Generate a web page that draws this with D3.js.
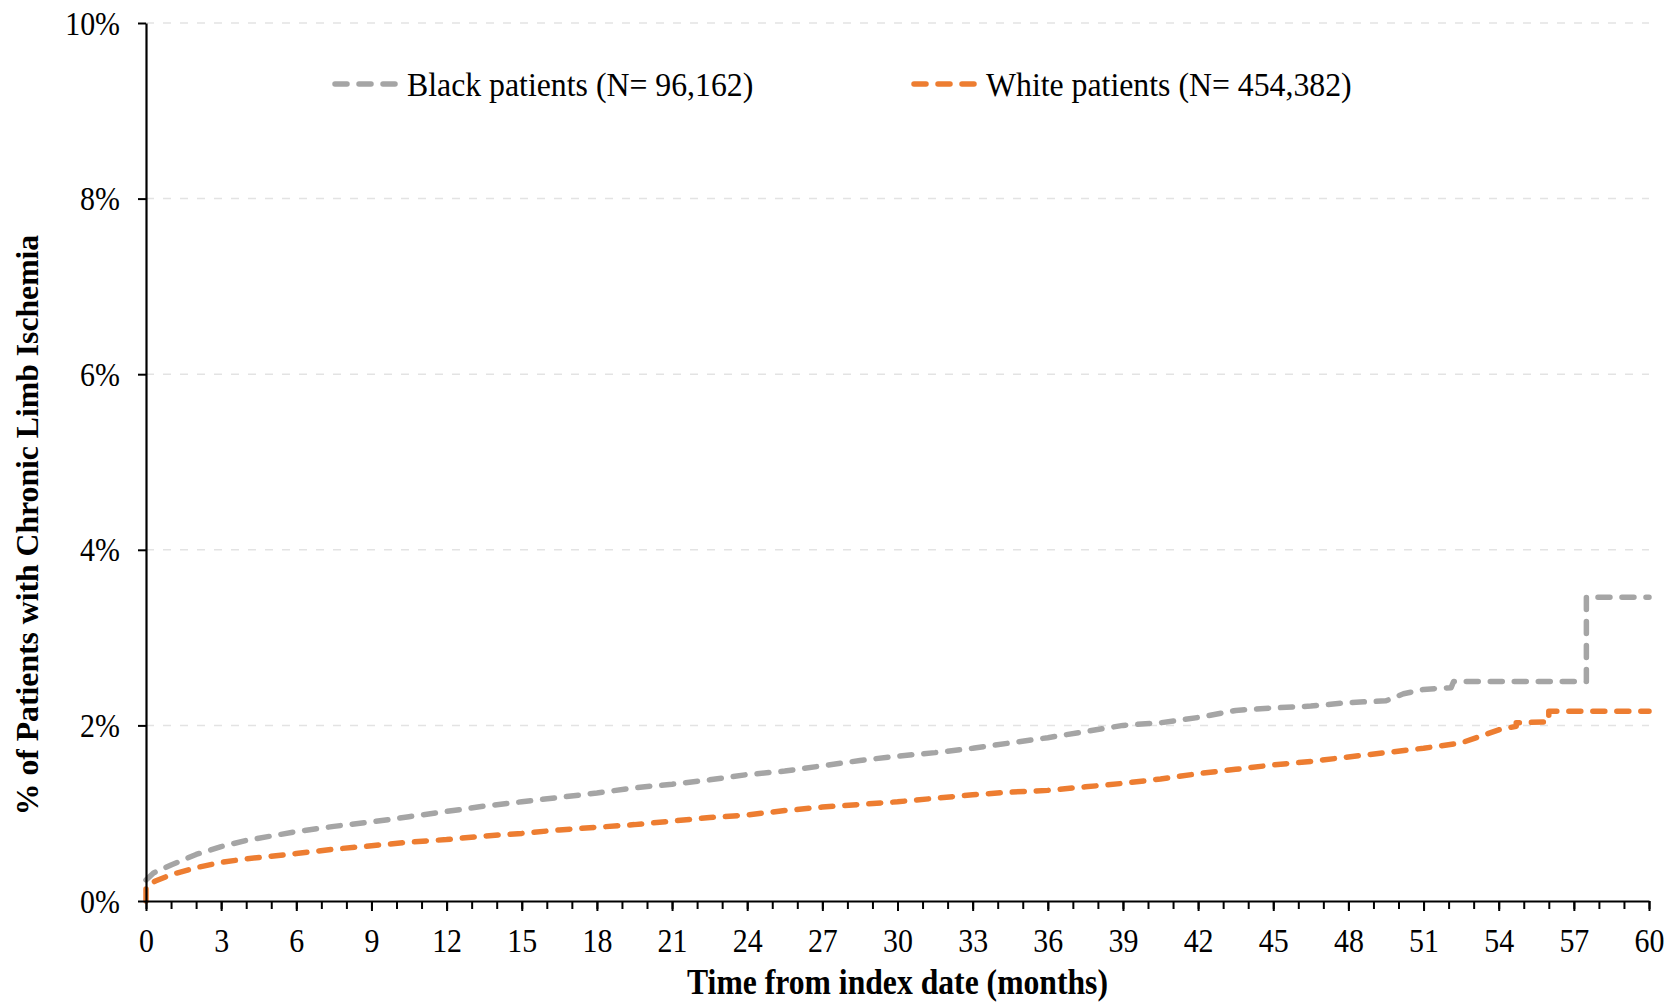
<!DOCTYPE html>
<html><head><meta charset="utf-8">
<script src="https://cdn.jsdelivr.net/npm/d3@7"></script>
<style>body{margin:0;background:#fff;overflow:hidden}</style>
</head><body><svg id="c" width="1680" height="1002"></svg>
<script>
// ---- data ----
const seriesNames = ["Black patients (N= 96,162)", "White patients (N= 454,382)"];
const blackMonths = [0,0.3,1,2,3,4,5,6,7.5,9,10.5,12,13.5,15,16.5,18,19.5,21,22.5,24,25.5,27,28.5,30,31.5,33,34.5,36,37.5,39,40.5,42,43.5,45,46.5,48,49.5,50.2,51,52.1,52.2,57.5,57.5,60];
const blackPct    = [0.24,0.32,0.41,0.53,0.62,0.69,0.74,0.79,0.85,0.9,0.96,1.02,1.08,1.13,1.18,1.23,1.29,1.33,1.38,1.44,1.48,1.54,1.6,1.65,1.69,1.74,1.8,1.86,1.93,2.0,2.03,2.09,2.17,2.2,2.22,2.26,2.28,2.36,2.41,2.43,2.5,2.5,3.46,3.46];
const whiteMonths = [0,0,0.1,0.4,1,2,3,4,5,6,7.5,9,10.5,12,13.5,15,16.5,18,19.5,21,22.5,24,25.5,27,28.5,30,31.5,33,34.5,36,37.5,39,40.5,42,43.5,45,46.5,48,49.5,51,52.5,53.2,54,54.7,54.7,56,56,60];
const whitePct    = [0,0.15,0.19,0.23,0.3,0.38,0.44,0.48,0.51,0.54,0.59,0.63,0.67,0.7,0.74,0.77,0.81,0.84,0.87,0.91,0.95,0.98,1.03,1.07,1.1,1.13,1.17,1.21,1.24,1.26,1.3,1.34,1.39,1.45,1.5,1.55,1.59,1.64,1.69,1.74,1.8,1.87,1.95,1.99,2.03,2.04,2.16,2.16];
const xMajorTicks = d3.range(0, 61, 3);
const xMinorTicks = d3.range(0, 61, 1);
const yTicks = [0,2,4,6,8,10];
const colors = ["#a5a5a5", "#ed7d31"];

// ---- layout ----
const svg = d3.select("#c");
const mLeft = 146, mRight = 1649, mTop = 23, mBottom = 901;
const sx = 0.88; // horizontal compression of serif glyphs
const x = d3.scaleLinear().domain([0,60]).range([mLeft,mRight]);
const y = d3.scaleLinear().domain([0,10]).range([mBottom,mTop]);
const font = "'Liberation Serif','Times New Roman',serif";

// gridlines
svg.append("g").selectAll("line").data(yTicks.filter(d=>d>0)).join("line")
  .attr("x1", mLeft).attr("x2", mRight)
  .attr("y1", d=>y(d)).attr("y2", d=>y(d))
  .attr("stroke", "#e3e3e3").attr("stroke-width", 1.5).attr("stroke-dasharray", "8,9");

// lines
const line = d3.line().x(d=>x(d[0])).y(d=>y(d[1]));
const series = [
  d3.zip(blackMonths, blackPct),
  d3.zip(whiteMonths, whitePct)
];
series.forEach((s,i)=>{
  svg.append("path").datum(s).attr("d", line)
    .attr("fill","none").attr("stroke", colors[i]).attr("stroke-width", 5.5)
    .attr("stroke-linecap","round").attr("stroke-linejoin","round")
    .attr("stroke-dasharray","12,12");
});

// x axis minor ticks
svg.append("g").attr("transform", `translate(0,${mBottom})`)
  .call(d3.axisBottom(x).tickValues(xMinorTicks).tickSize(8).tickFormat(""))
  .call(g=>{g.select(".domain").remove(); g.selectAll("line").attr("stroke","#000").attr("stroke-width",2);});
// x axis major
const xa = svg.append("g").attr("transform", `translate(0,${mBottom})`)
  .call(d3.axisBottom(x).tickValues(xMajorTicks).tickSize(10).tickSizeOuter(0).tickPadding(8).tickFormat(d3.format("d")));
xa.select(".domain").attr("stroke","#000").attr("stroke-width",2.2);
xa.selectAll("line").attr("stroke","#000").attr("stroke-width",2);
xa.selectAll("text").attr("font-family", font).attr("font-size", 34).attr("fill","#000")
  .attr("dy", null).attr("y", 51).attr("transform", `scale(${sx},1)`);

// y axis
const ya = svg.append("g").attr("transform", `translate(${mLeft},0)`)
  .call(d3.axisLeft(y).tickValues(yTicks).tickSize(8).tickSizeOuter(0).tickFormat(d=>d+"%"));
ya.select(".domain").attr("stroke","#000").attr("stroke-width",2.2);
ya.selectAll("line").attr("stroke","#000").attr("stroke-width",2);
ya.selectAll("text").attr("font-family", font).attr("font-size", 34).attr("fill","#000")
  .attr("dy", null).attr("y", 11).attr("x", -26/sx).attr("transform", `scale(${sx},1)`);

// axis titles
svg.append("g").attr("transform", `translate(${(mLeft+mRight)/2},994) scale(0.905,1)`)
  .append("text").attr("text-anchor","middle").attr("font-family",font).attr("font-weight","bold")
  .attr("font-size",35).text("Time from index date (months)");
svg.append("text").attr("transform", `translate(38,525) rotate(-90)`)
  .attr("text-anchor","middle").attr("font-family",font).attr("font-weight","bold")
  .attr("font-size",31.7).text("% of Patients with Chronic Limb Ischemia");

// legend
const legendX = [332, 911];
seriesNames.forEach((name,i)=>{
  const g = svg.append("g").attr("transform", `translate(${legendX[i]},84)`);
  g.append("line").attr("x1",3).attr("x2",66).attr("y1",0).attr("y2",0)
    .attr("stroke", colors[i]).attr("stroke-width",5.5).attr("stroke-linecap","round")
    .attr("stroke-dasharray","12,12");
  g.append("g").attr("transform", `translate(75,11.5) scale(0.935,1)`)
    .append("text").attr("font-family",font).attr("font-size",34).attr("fill","#000").text(name);
});
</script>
</body></html>
